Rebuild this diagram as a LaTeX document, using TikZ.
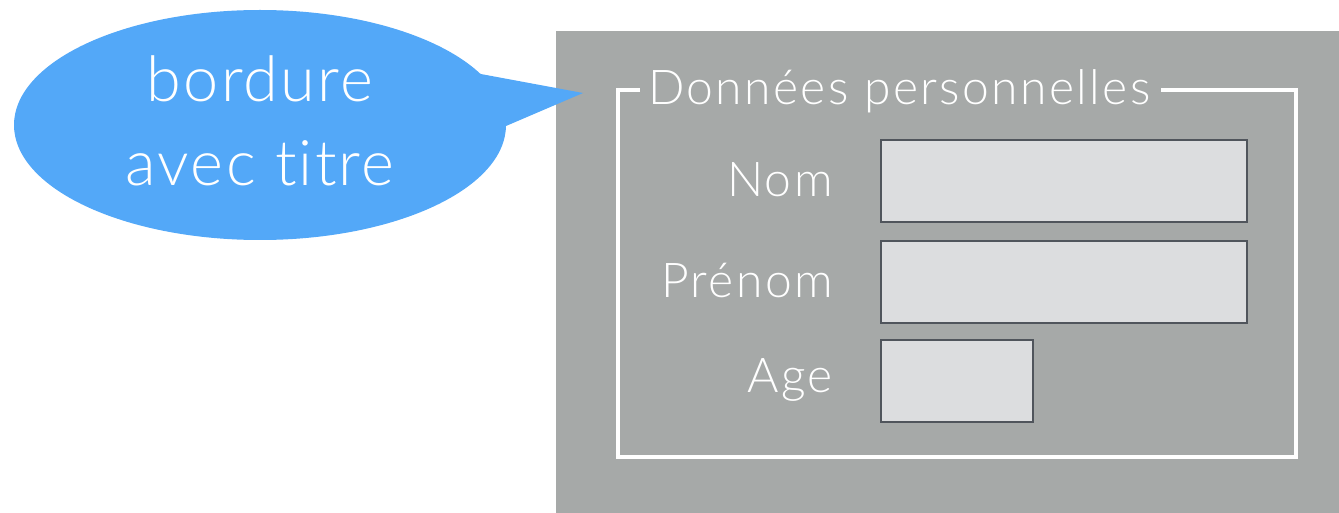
\documentclass[tikz,border=0pt]{standalone}
\usepackage{fontspec}
\setmainfont{Lato}[UprightFont=* Light,LetterSpace=5,Ligatures=NoCommon]
\newfontfamily\bubfont{Lato}[UprightFont=* Light,LetterSpace=3.5,Ligatures=NoCommon]
\definecolor{bubble}{HTML}{53A8F8}
\definecolor{panel}{HTML}{A6A9A8}
\definecolor{field}{HTML}{DCDDDF}
\definecolor{fieldline}{HTML}{50555C}
\begin{document}
\begin{tikzpicture}[x=1pt,y=-1pt,
  lbl/.style={text=white,font=\fontsize{48}{48}\selectfont,anchor=base east,inner sep=0pt},
  fieldbox/.style={draw=fieldline,fill=field,line width=2pt},
  bubtext/.style={text=white,font=\bubfont\fontsize{63}{63}\selectfont,anchor=base,inner sep=0pt}]
\useasboundingbox (0,0) rectangle (1339,513);
% panel
\fill[panel] (556,31) rectangle (1339,513);
% callout bubble
\fill[bubble] (260,125) ellipse [x radius=246, y radius=115];
\fill[bubble] (470,72) -- (583,93) -- (506,126) -- (480,120) -- cycle;
\node[bubtext] (b1) at (260,102) {bordure};
\node[bubtext] (b2) at (260,186) {avec titre};
% titled border
\node[text=white,font=\fontsize{48}{48}\selectfont,anchor=base west,inner sep=0pt] (title) at (648,105) {Données personnelles};
\coordinate (tl) at (618,90);
\coordinate (tr) at (1296,90);
\coordinate (bl) at (618,457);
\coordinate (br) at (1296,457);
\draw[white,line width=4.5pt] (title.west |- tl) ++(-8,0) -- (tl) -- (bl) -- (br) -- (tr) -- ([xshift=10pt]title.east |- tr);
% fields
\node[fieldbox,minimum width=366pt,minimum height=82pt,anchor=north west,inner sep=0pt] (fnom) at (880,139) {};
\node[fieldbox,minimum width=366pt,minimum height=82pt,anchor=north west,inner sep=0pt] (fpre) at (880,240) {};
\node[fieldbox,minimum width=152pt,minimum height=82pt,anchor=north west,inner sep=0pt] (fage) at (880,339) {};
\node[lbl] (lnom) at (833,197) {Nom};
\node[lbl] (lpre) at (833,297) {Prénom};
\node[lbl] (lage) at (833,392) {Age};
\end{tikzpicture}
\end{document}
